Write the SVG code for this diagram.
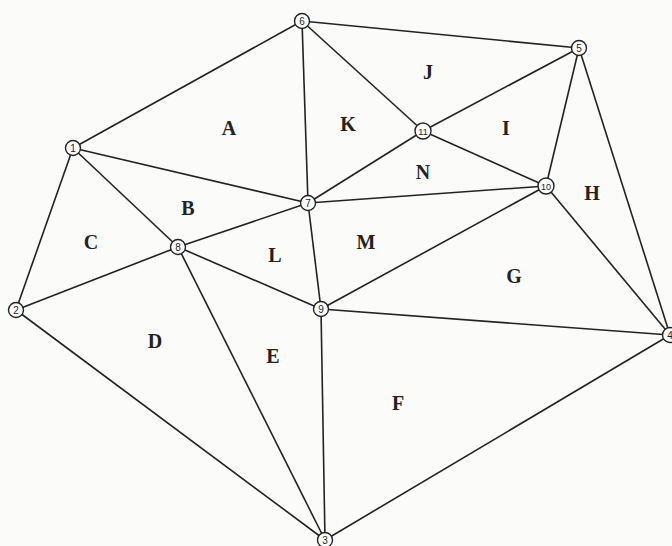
<svg xmlns="http://www.w3.org/2000/svg" width="672" height="546" viewBox="0 0 672 546">
<style>
.e{stroke:#222;stroke-width:1.6;fill:none}
.n{fill:#fff;stroke:#222;stroke-width:1.4}
.nt{font-family:"Liberation Sans",sans-serif;font-size:10px;fill:#222;text-anchor:middle}
.lb{font-family:"Liberation Serif",serif;font-size:20px;font-weight:bold;fill:#222;text-anchor:middle}
</style>
<rect width="672" height="546" fill="#fbfbfa"/>
<g id="connectors">
<line class="e" x1="73" y1="148" x2="302" y2="21"/>
<line class="e" x1="302" y1="21" x2="579" y2="48"/>
<line class="e" x1="302" y1="21" x2="308" y2="203"/>
<line class="e" x1="302" y1="21" x2="423" y2="131"/>
<line class="e" x1="579" y1="48" x2="423" y2="131"/>
<line class="e" x1="579" y1="48" x2="546" y2="186"/>
<line class="e" x1="579" y1="48" x2="670" y2="335"/>
<line class="e" x1="423" y1="131" x2="308" y2="203"/>
<line class="e" x1="423" y1="131" x2="546" y2="186"/>
<line class="e" x1="546" y1="186" x2="308" y2="203"/>
<line class="e" x1="546" y1="186" x2="321" y2="309"/>
<line class="e" x1="546" y1="186" x2="670" y2="335"/>
<line class="e" x1="73" y1="148" x2="308" y2="203"/>
<line class="e" x1="73" y1="148" x2="178" y2="247"/>
<line class="e" x1="73" y1="148" x2="16" y2="310"/>
<line class="e" x1="16" y1="310" x2="178" y2="247"/>
<line class="e" x1="178" y1="247" x2="308" y2="203"/>
<line class="e" x1="178" y1="247" x2="321" y2="309"/>
<line class="e" x1="178" y1="247" x2="325" y2="540"/>
<line class="e" x1="308" y1="203" x2="321" y2="309"/>
<line class="e" x1="16" y1="310" x2="325" y2="540"/>
<line class="e" x1="321" y1="309" x2="325" y2="540"/>
<line class="e" x1="321" y1="309" x2="670" y2="335"/>
<line class="e" x1="325" y1="540" x2="670" y2="335"/>
</g>
<g id="n1"><circle class="n" cx="73" cy="148" r="7.5"/><text class="nt" x="73" y="151.5">1</text></g>
<g id="n2"><circle class="n" cx="16" cy="310" r="7.5"/><text class="nt" x="16" y="313.5">2</text></g>
<g id="n3"><circle class="n" cx="325" cy="540" r="7.5"/><text class="nt" x="325" y="543.5">3</text></g>
<g id="n4"><circle class="n" cx="670" cy="335" r="7.5"/><text class="nt" x="670" y="338.5">4</text></g>
<g id="n5"><circle class="n" cx="579" cy="48" r="7.5"/><text class="nt" x="579" y="51.5">5</text></g>
<g id="n6"><circle class="n" cx="302" cy="21" r="7.5"/><text class="nt" x="302" y="24.5">6</text></g>
<g id="n7"><circle class="n" cx="308" cy="203" r="7.5"/><text class="nt" x="308" y="206.5">7</text></g>
<g id="n8"><circle class="n" cx="178" cy="247" r="7.5"/><text class="nt" x="178" y="250.5">8</text></g>
<g id="n9"><circle class="n" cx="321" cy="309" r="7.5"/><text class="nt" x="321" y="312.5">9</text></g>
<g id="n10"><circle class="n" cx="546" cy="186" r="8"/><text class="nt" x="546" y="189.5" style="font-size:9px">10</text></g>
<g id="n11"><circle class="n" cx="423" cy="131" r="8"/><text class="nt" x="423" y="134.5" style="font-size:9px">11</text></g>
<g id="labels">
<text class="lb" x="229" y="135">A</text>
<text class="lb" x="188" y="215">B</text>
<text class="lb" x="91" y="249">C</text>
<text class="lb" x="155" y="348">D</text>
<text class="lb" x="273" y="363">E</text>
<text class="lb" x="398" y="410">F</text>
<text class="lb" x="514" y="283">G</text>
<text class="lb" x="592" y="200">H</text>
<text class="lb" x="506" y="135">I</text>
<text class="lb" x="428" y="79">J</text>
<text class="lb" x="348" y="131">K</text>
<text class="lb" x="275" y="262">L</text>
<text class="lb" x="366" y="249">M</text>
<text class="lb" x="423" y="179">N</text>
</g>
</svg>
